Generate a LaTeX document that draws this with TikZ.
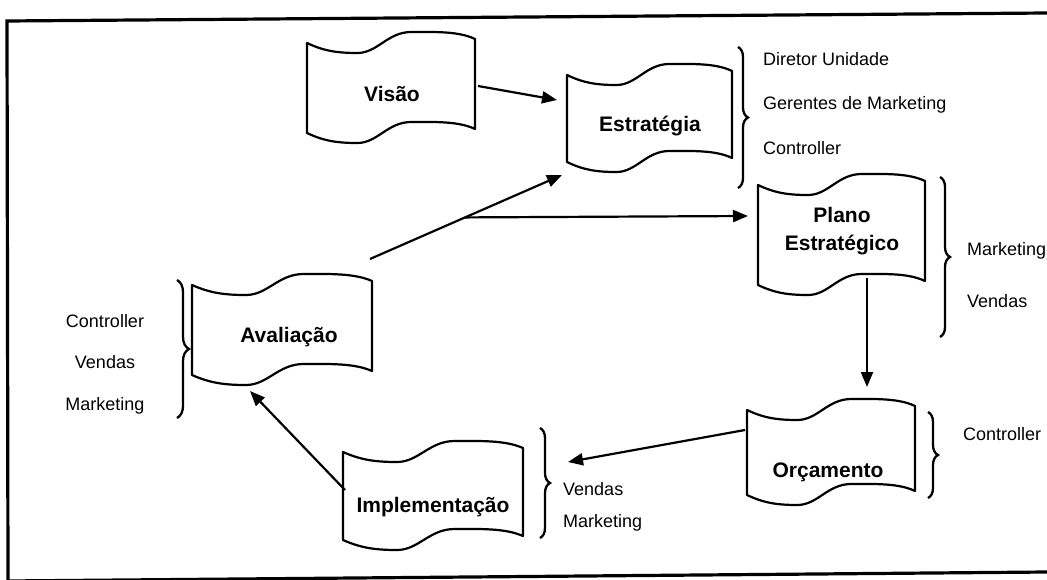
\documentclass[tikz,border=0pt]{standalone}
\usepackage{fontspec}
\setmainfont{Liberation Sans}
\usetikzlibrary{arrows.meta,decorations.pathreplacing}

% Waving flag outline: name, left x, top y, width, height (pixel units, y down)
\newcommand\wavyflag[5]{%
  \draw[flagline]
    (#2,#3) .. controls ({#2+0.10*#4},{#3+8}) and ({#2+0.18*#4},{#3+10}) .. ({#2+0.30*#4},{#3+10})
    .. controls ({#2+0.42*#4},{#3+10}) and ({#2+0.48*#4},{#3-11}) .. ({#2+0.62*#4},{#3-11})
    .. controls ({#2+0.76*#4},{#3-11}) and ({#2+0.90*#4},{#3-12}) .. ({#2+#4},{#3-4})
    -- ({#2+#4},{#3+#5-4})
    .. controls ({#2+0.90*#4},{#3+#5-12}) and ({#2+0.76*#4},{#3+#5-11}) .. ({#2+0.62*#4},{#3+#5-11})
    .. controls ({#2+0.48*#4},{#3+#5-11}) and ({#2+0.42*#4},{#3+#5+10}) .. ({#2+0.30*#4},{#3+#5+10})
    .. controls ({#2+0.18*#4},{#3+#5+10}) and ({#2+0.10*#4},{#3+#5+8}) .. (#2,{#3+#5})
    -- cycle;
  \node[flagarea, minimum width=#4, minimum height=#5] (#1) at ({#2+#4/2},{#3+#5/2}) {};
}

\begin{document}
\begin{tikzpicture}[x=1pt,y=-1pt,
  flagline/.style={line width=2.2pt, line join=round},
  flagarea/.style={rectangle, inner sep=0pt, outer sep=0pt},
  flagtext/.style={font=\bfseries\fontsize{21}{28}\selectfont, inner sep=0pt, align=center},
  role/.style={font=\fontsize{18}{22}\selectfont, inner sep=0pt},
  link/.style={line width=2.2pt, -{Triangle[length=15pt,width=12pt]}},
  group/.style={line width=2.3pt, decorate, decoration={brace, amplitude=10pt}},
  frame/.style={line width=3.2pt}]

\useasboundingbox (0,0) rectangle (1047,580);

% outer frame
\draw[frame] (1047,13) -- (7,21) -- (8,582);
\draw[frame] (8,581) -- (1047,572);

% process steps
\wavyflag{visao}{307}{43}{168}{90}
\wavyflag{estr}{567}{75}{165}{87}
\wavyflag{plano}{758}{185}{167}{100}
\wavyflag{orc}{747}{410}{168}{85}
\wavyflag{impl}{343}{452}{180}{88}
\wavyflag{aval}{192}{285}{180}{90}

\node[flagtext, anchor=base] (visao-t) at (392,102) {Visão};
\node[flagtext, anchor=base] (estr-t) at (650,132) {Estratégia};
\node[flagtext] (plano-t) at (842,231) {Plano\\Estratégico};
\node[flagtext, anchor=base] (orc-t) at (828,477) {Orçamento};
\node[flagtext, anchor=base] (impl-t) at (433,512) {Implementação};
\node[flagtext, anchor=base] (aval-t) at (289,342) {Avaliação};

% flow
\draw[link] ([shift={(3,-2)}]visao.east) -- ([shift={(-10,-18.5)}]estr.west);
\draw[link] ([shift={(-2,-26)}]aval.north east) -- coordinate[pos=0.495] (split) ([shift={(-5,13)}]estr.south west);
\draw[link] (split) -- ([shift={(-10,-19)}]plano.west);
\draw[link] ([shift={(25.5,-7)}]plano.south) -- ([shift={(36,-23)}]orc.north);
\draw[link] ([shift={(-2,-22.5)}]orc.west) -- ([shift={(45,10)}]impl.north east);
\draw[link] ([shift={(2,-6)}]impl.west) -- ([shift={(-32,16)}]aval.south);

% responsibilities
\draw[group] (738,47) -- (738,188);
\node[role, anchor=base west] (r1) at (763,66) {Diretor Unidade};
\node[role, anchor=base west] (r2) at (763,110) {Gerentes de Marketing};
\node[role, anchor=base west] (r3) at (763,155) {Controller};

\draw[group] (940,177) -- (940,337);
\node[role, anchor=base west] (r4) at (967,255) {Marketing};
\node[role, anchor=base west] (r5) at (967,307) {Vendas};

\draw[group] (928,412) -- (928,498);
\node[role, anchor=base west] (r6) at (963,440) {Controller};

\draw[group] (540,428) -- (540,538);
\node[role, anchor=base west] (r7) at (563,495) {Vendas};
\node[role, anchor=base west] (r8) at (563,527) {Marketing};

\draw[group, decoration={amplitude=12pt}] (177,280) -- (177,418);
\node[role, anchor=base] (r9) at (105,327) {Controller};
\node[role, anchor=base] (r10) at (105,368) {Vendas};
\node[role, anchor=base] (r11) at (105,410) {Marketing};

\end{tikzpicture}
\end{document}
